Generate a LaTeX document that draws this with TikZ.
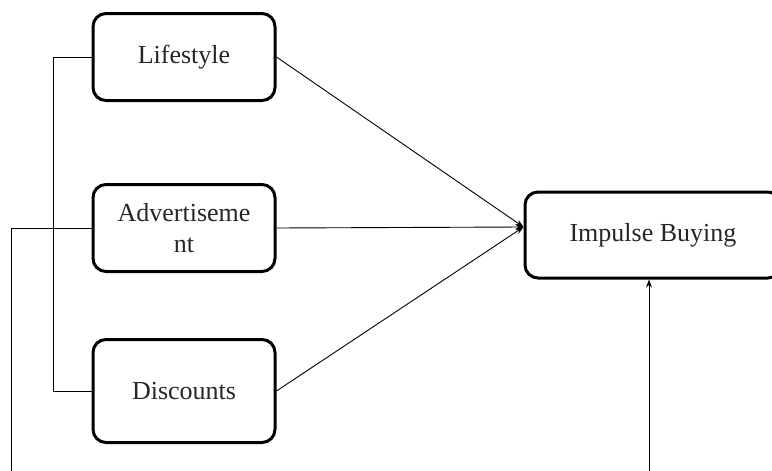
\documentclass[tikz,border=0pt]{standalone}
\usepackage{fontspec}
\setmainfont{Liberation Serif}
\usetikzlibrary{arrows.meta}
\begin{document}
\begin{tikzpicture}[x=1pt,y=-1pt,
  box/.style={draw=black, line width=3pt, rounded corners=13pt, align=center,
    inner sep=0pt, font=\fontsize{26}{31}\selectfont, text=black!85},
  conn/.style={draw=black, line width=0.9pt},
  arr/.style={conn, -{Stealth[length=8pt,width=6pt]}}]
\useasboundingbox (0,0) rectangle (772,471);
\clip (0,0) rectangle (772,471);
\node[box, minimum width=182pt, minimum height=87pt] (L) at (184,57) {Lifestyle};
\node[box, minimum width=182pt, minimum height=87pt] (A) at (184,228) {Advertiseme\\nt};
\node[box, minimum width=182pt, minimum height=103pt] (D) at (184,391) {Discounts};
\node[box, minimum width=256pt, minimum height=86pt] (I) at (653,235) {Impulse Buying};
\coordinate (bl) at (53,0);
\coordinate (al) at (11,471);
\coordinate (bb) at (649,471);
\coordinate (m) at ([yshift=8pt]I.west);
\draw[conn] (L.west) -- (L.west -| bl) |- (D.west);
\draw[conn] (A.west) -- (A.west -| al) -- (al);
\draw[arr] (L.east) -- (m);
\draw[arr] (A.east) -- (m);
\draw[arr] (D.east) -- (m);
\draw[arr] (bb) -- (I.south -| bb);
\end{tikzpicture}
\end{document}
